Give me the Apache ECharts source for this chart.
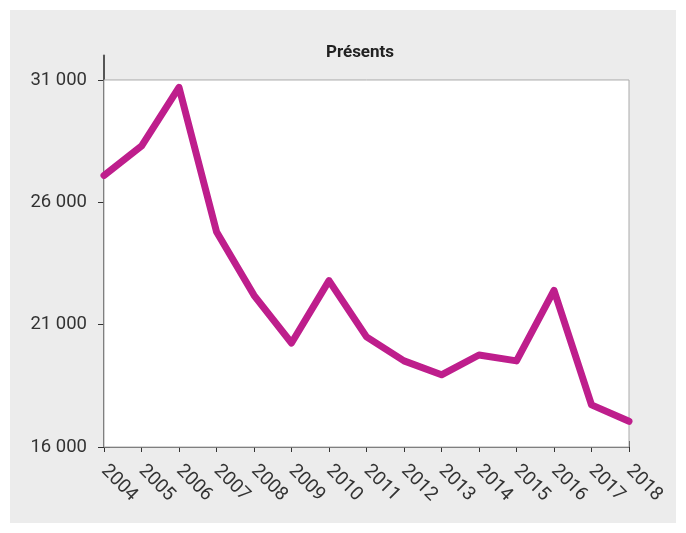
<!DOCTYPE html>
<html>
<head>
<meta charset="utf-8">
<script src="https://cdn.jsdelivr.net/npm/echarts@6/dist/echarts.min.js"></script>
<style>
html,body{margin:0;padding:0;background:#fff;}
#wrap{position:absolute;left:10px;top:10px;width:666px;height:513px;background:#ececec;}
#chart{width:666px;height:513px;}
</style>
</head>
<body>
<div id="wrap"><div id="chart"></div></div>
<script>
const years = ['2004','2005','2006','2007','2008','2009','2010','2011','2012','2013','2014','2015','2016','2017','2018'];
const presents = [27100, 28300, 30700, 24800, 22200, 20250, 22800, 20500, 19520, 18950, 19760, 19520, 22400, 17720, 17050];
const yTicks = [16000, 21000, 26000, 31000];
const titleText = 'Présents';

const chart = echarts.init(document.getElementById('chart'));
const fmt = v => String(v).replace(/\B(?=(\d{3})+(?!\d))/g, ' ');
const labelFont = 'Roboto, sans-serif';
chart.setOption({
  animation: false,
  title: {
    text: titleText, left: 345, top: 29, textAlign: 'center',
    textStyle: {fontFamily: 'Roboto, sans-serif', fontWeight: 'bold', fontSize: 17, color: '#222'}
  },
  grid: {left: 94, right: 47, top: 45.5, bottom: 76},
  xAxis: [{
    type: 'category', data: years, boundaryGap: false,
    axisLine: {lineStyle: {color: '#555', width: 2}},
    axisTick: {inside: false, length: 5, lineStyle: {color: '#333', width: 1}},
    axisLabel: {rotate: -45, fontSize: 19, color: '#333', fontFamily: labelFont, margin: 21, interval: 0},
    splitLine: {show: false}
  }, {
    type: 'category', data: years, boundaryGap: false, position: 'bottom',
    axisLine: {show: false},
    axisTick: {inside: true, length: 6, lineStyle: {color: '#333', width: 1}},
    axisLabel: {show: false}, splitLine: {show: false}
  }],
  yAxis: [{
    type: 'value', min: 16000, max: 32000, interval: 5000,
    axisLine: {show: true, lineStyle: {color: '#555', width: 2}},
    axisTick: {show: true, length: 6, customValues: yTicks, lineStyle: {color: '#333', width: 1}},
    axisLabel: {customValues: yTicks, formatter: fmt, fontSize: 18.5, color: '#333', fontFamily: labelFont, margin: 17},
    splitLine: {show: false}
  }, {
    type: 'value', min: 16000, max: 32000, interval: 5000, position: 'left',
    axisLine: {show: false},
    axisTick: {show: true, inside: true, length: 6, customValues: yTicks, lineStyle: {color: '#333', width: 1}},
    axisLabel: {show: false}, splitLine: {show: false}
  }],
  series: [{
    type: 'line', data: presents, xAxisIndex: 0, yAxisIndex: 0,
    symbol: 'none', z: 5,
    lineStyle: {color: '#be1e8c', width: 7, cap: 'round', join: 'round'},
    markArea: {
      silent: true,
      itemStyle: {color: '#ffffff', borderColor: '#aaaaaa', borderWidth: 1},
      data: [[{xAxis: years[0], yAxis: yTicks[0]}, {xAxis: years[years.length - 1], yAxis: yTicks[yTicks.length - 1]}]]
    }
  }]
});
</script>
</body>
</html>
